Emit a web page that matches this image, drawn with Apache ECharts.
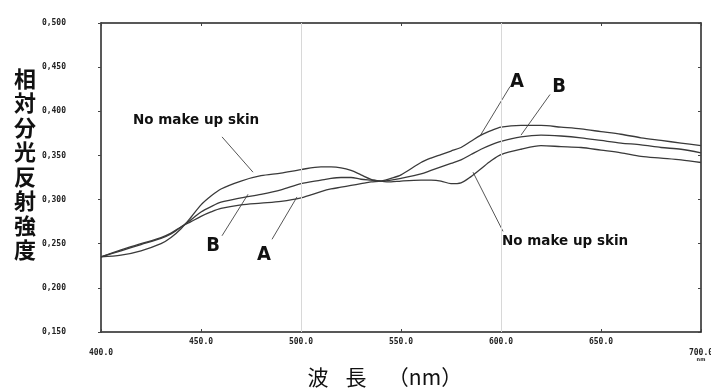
<!DOCTYPE html>
<html><head><meta charset="utf-8">
<script src="https://cdn.jsdelivr.net/npm/echarts@6/dist/echarts.min.js"></script>
<style>html,body{margin:0;padding:0;background:#fff}#c{width:711px;height:389px}</style>
</head><body><div id="c"></div>
<script>
const wavelengths = [400,410,420,430,435,440,445,450,455,460,470,480,490,500,510,515,520,525,530,535,540,545,550,560,565,570,575,580,585,590,595,600,610,620,630,640,650,660,670,680,690,700];
const noMakeUp = [0.235,0.237,0.242,0.250,0.257,0.267,0.280,0.294,0.304,0.312,0.321,0.327,0.330,0.334,0.337,0.337,0.336,0.333,0.328,0.323,0.321,0.320,0.321,0.322,0.322,0.321,0.318,0.319,0.326,0.335,0.344,0.351,0.357,0.361,0.360,0.359,0.356,0.353,0.349,0.347,0.345,0.342];
const seriesB = [0.235,0.242,0.249,0.256,0.261,0.269,0.277,0.286,0.292,0.297,0.302,0.306,0.311,0.318,0.322,0.324,0.325,0.325,0.323,0.322,0.321,0.322,0.324,0.329,0.333,0.337,0.341,0.345,0.351,0.357,0.362,0.366,0.371,0.373,0.372,0.370,0.367,0.364,0.362,0.359,0.357,0.353];
const seriesA = [0.235,0.243,0.250,0.257,0.262,0.269,0.275,0.281,0.286,0.290,0.294,0.296,0.298,0.302,0.309,0.312,0.314,0.316,0.318,0.320,0.321,0.324,0.328,0.342,0.347,0.351,0.355,0.359,0.366,0.373,0.378,0.382,0.384,0.384,0.382,0.380,0.377,0.374,0.370,0.367,0.364,0.361];
const xTicks = [400,450,500,550,600,650,700];
const yTicks = [0.150,0.200,0.250,0.300,0.350,0.400,0.450,0.500];
const gridXLines = [500,600];
// annotations: text, text anchor [x,y], leader line from, leader line to (data units)
const annLabels = ['No make up skin','No make up skin','A','B','B','A'];
const annText = [[416,0.389],[600.5,0.253],[608,0.433],[629,0.428],[456,0.248],[481.5,0.238]];
const annFrom = [[460.5,0.371],[601,0.264],[604.5,0.428],[624.5,0.419],[460.5,0.259],[485.5,0.255]];
const annTo = [[476,0.331],[586,0.331],[589.5,0.372],[610,0.373],[473.5,0.306],[498,0.303]];
const yTitle = '相対分光反射強度';
const xTitleParts = ['波','長','（nm）'];

const pairs = v => wavelengths.map((w,i)=>[w,v[i]]);
const lineStyle = {color:'#3a3a3a', width:1.3};
const chart = echarts.init(document.getElementById('c'), null, {renderer:'canvas'});
const lblFont = {fontFamily:'DejaVu Sans Mono, monospace', fontSize:8, fontWeight:'bold', color:'#222'};
chart.setOption({
  animation:false,
  grid:{left:101, right:10, top:23, bottom:57, containLabel:false, outerBoundsMode:'none'},
  xAxis:[{
    type:'value', min:400, max:700, interval:50,
    axisLine:{show:true, onZero:false, lineStyle:{color:'#222', width:1.5}},
    axisTick:{show:true, inside:true, length:3, lineStyle:{color:'#444'}},
    splitLine:{show:false},
    axisLabel:{margin:6, hideOverlap:false, ...lblFont,
      formatter: v => {
        const s = v.toFixed(1);
        if (v===400) return '{low|'+s+'}';
        if (v===700) return '{low|'+s+'}\n{nm|nm}';
        return s;
      },
      rich:{low:{...lblFont, padding:[11,0,0,0]}, nm:{fontFamily:'DejaVu Sans', fontSize:5, fontWeight:'bold', color:'#222', padding:[0,0,0,0]}}
    }
  },{
    type:'value', position:'top', min:400, max:700, interval:50,
    axisLine:{show:true, onZero:false, lineStyle:{color:'#222', width:1.5}},
    axisTick:{show:true, inside:true, length:3, lineStyle:{color:'#444'}},
    axisLabel:{show:false}, splitLine:{show:false}
  }],
  yAxis:[{
    type:'value', min:0.15, max:0.5, interval:0.05,
    axisLine:{show:true, onZero:false, lineStyle:{color:'#222', width:1.5}},
    axisTick:{show:true, length:3, lineStyle:{color:'#444'}},
    splitLine:{show:false},
    axisLabel:{margin:35, align:'right', ...lblFont, formatter: v => v.toFixed(3).replace('.', ',')}
  },{
    type:'value', position:'right', min:0.15, max:0.5, interval:0.05,
    axisLine:{show:true, onZero:false, lineStyle:{color:'#222', width:1.5}},
    axisTick:{show:true, inside:true, length:3, lineStyle:{color:'#444'}},
    axisLabel:{show:false}, splitLine:{show:false}
  }],
  series:[
    {type:'line', name:'No make up skin', data:pairs(noMakeUp), smooth:0.3, symbol:'none', lineStyle,
     markLine:{silent:true, symbol:'none', label:{show:false}, lineStyle:{color:'#d8d8d8', width:1, type:'solid'},
       data: gridXLines.map(x=>({xAxis:x}))}},
    {type:'line', name:'B', data:pairs(seriesB), smooth:0.3, symbol:'none', lineStyle},
    {type:'line', name:'A', data:pairs(seriesA), smooth:0.3, symbol:'none', lineStyle}
  ]
});

function drawAnnotations(){
  const g = [];
  annLabels.forEach((t,i)=>{
    const p = chart.convertToPixel({xAxisIndex:0,yAxisIndex:0}, annText[i]);
    const a = chart.convertToPixel({xAxisIndex:0,yAxisIndex:0}, annFrom[i]);
    const b = chart.convertToPixel({xAxisIndex:0,yAxisIndex:0}, annTo[i]);
    g.push({type:'line', shape:{x1:a[0],y1:a[1],x2:b[0],y2:b[1]}, style:{stroke:'#555', lineWidth:1}});
    const isLetter = t.length===1;
    g.push({type:'text', x:p[0], y:p[1], style:{
      text:t, fill:'#111',
      font: isLetter ? 'bold 20px "Liberation Sans Narrow", "DejaVu Sans Condensed", sans-serif' : 'bold 13.5px "DejaVu Sans", sans-serif',
      textAlign: isLetter ? 'center' : 'left', textVerticalAlign:'middle'}});
  });
  g.push({type:'text', left:14, top:66, style:{text:yTitle.split('').join('\n'), font:'bold 22px "Noto Sans CJK JP", sans-serif', lineHeight:24.5, fill:'#111', textAlign:'left'}});
  const xCenters = [318, 356, 425];
  xTitleParts.forEach((t,i)=>{
    g.push({type:'text', x:xCenters[i], y:377, style:{text:t, font:'21px "Noto Sans CJK JP", sans-serif', fill:'#111', textAlign:'center', textVerticalAlign:'middle'}});
  });
  chart.setOption({graphic:g});
}
drawAnnotations();
</script></body></html>
